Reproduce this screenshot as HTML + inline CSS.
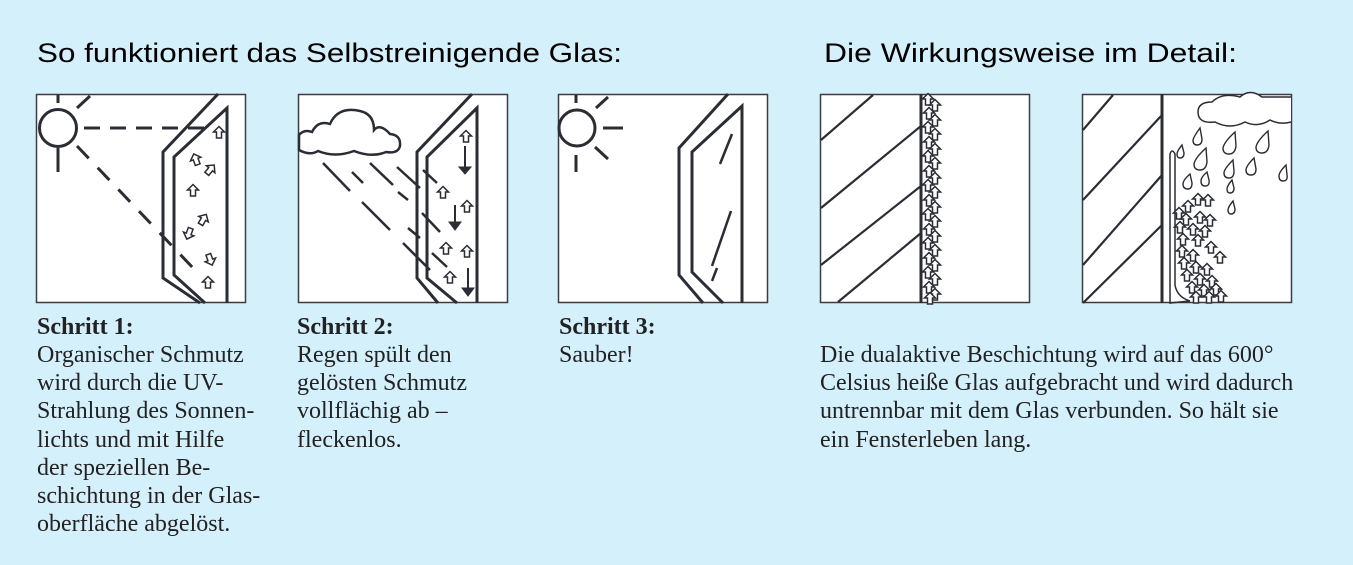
<!DOCTYPE html>
<html><head><meta charset="utf-8"><style>
body{margin:0;background:#d4f1fb;}
svg{display:block}
.t{font-family:"Liberation Sans",sans-serif;font-size:27px;fill:#000}
.c{font-family:"Liberation Serif",serif;font-size:24px;fill:#222}
.b{font-weight:bold}
</style></head><body>
<svg width="1353" height="565" viewBox="0 0 1353 565" xmlns="http://www.w3.org/2000/svg">
<defs>
<g id="d"><path d="M0,-6.5 L5.5,-1 L2.5,-1 L2.5,5 L-2.5,5 L-2.5,-1 L-5.5,-1 Z" fill="#fff" stroke="#2a2d33" stroke-width="1.5"/></g>
</defs>
<text class="t" x="37" y="62" textLength="585" lengthAdjust="spacingAndGlyphs">So funktioniert das Selbstreinigende Glas:</text>
<text class="t" x="824" y="62" textLength="413" lengthAdjust="spacingAndGlyphs">Die Wirkungsweise im Detail:</text>
<g fill="#fff" stroke="#3a3c40" stroke-width="1.5">
<rect x="36.5" y="94.5" width="209" height="208"/>
<rect x="298.5" y="94.5" width="209" height="208"/>
<rect x="558.5" y="94.5" width="209" height="208"/>
<rect x="820.5" y="94.5" width="209" height="208"/>
<rect x="1082.5" y="94.5" width="209" height="208"/>
</g>
<g fill="none" stroke="#2a2d33" stroke-width="3">
<circle cx="58" cy="128" r="18.5"/>
<path d="M58,95V103 M77,108L90,96 M58,148V172"/>
<path d="M84,128H212" stroke-dasharray="16,10"/>
<path d="M77,146L195,270" stroke-dasharray="17,13"/>
<path d="M218,94L163,152V278L200,303 M227,303V108L174,157V275L205,303"/>
<path d="M472,94L417,152V278L438,303 M477,303V108L427,157V278L457,303"/>
<path d="M323,163L350,191 M352,172L363,183 M370,163L393,185 M397,167L420,188 M423,170L437,183 M362,202L390,230 M398,192L408,200 M422,213L440,232 M408,228L420,238 M403,243L430,270 M432,253L447,267" stroke-width="2.5"/>
<path d="M465,146V172 M455,205V228 M468,268V294" stroke-width="2"/>
<path d="M459,167L471,167L465,174Z M449,222L461,222L455,230Z M462,288L474,288L468,296Z" fill="#2a2d33" stroke-width="1"/>
<circle cx="577" cy="128" r="18"/>
<path d="M576,95V103 M596,108L608,97 M603,128H623 M595,147L608,159 M576,155V172"/>
<path d="M728,94L679,148V275L703,303 M742,303V106L692,152V272L723,303"/>
<path d="M732,134L720,164 M731,211L712,266 M717,268L712,281" stroke-width="2.5"/>
<path d="M921,94V303" />
<path d="M821,140L873,95 M821,208L921,126 M821,265L921,186 M838,302L921,233" stroke-width="2.2"/>
<path d="M1162,94V303"/>
<path d="M1083,130L1113,95 M1083,200L1162,115 M1083,265L1162,175 M1083,303L1162,225" stroke-width="2.2"/>
<path d="M1170,303V154Q1172,148 1175,154V285Q1177,297 1190,301Z" stroke-width="1.5"/>
</g>
<path d="M299,135Q304,129 312,132Q318,120 330,124Q338,106 360,111Q374,114 374,130Q380,123 390,134Q401,135 400,146Q398,154 386,152Q372,158 354,151Q335,158 318,151Q310,156 299,150Z" fill="#fff" stroke="#2a2d33" stroke-width="2.5"/>
<path d="M1291,122Q1280,125 1270,120Q1258,128 1245,122Q1230,130 1215,122Q1198,124 1198,112Q1198,102 1212,102Q1222,92 1240,97Q1250,88 1262,97L1291,97" fill="#fff" stroke="#2a2d33" stroke-width="1.5"/>
<g fill="#fff" stroke="#2a2d33" stroke-width="1.4">
<path d="M1200,128q-6,8 -7,12q0,5 4,5q5,0 5,-6z M1235,132q-11,10 -12,16q0,6 6,6q6,0 7,-8z M1268,131q-11,10 -12,16q0,6 6,6q6,0 7,-8z M1182,145q-5,6 -5,9q0,4 3,4q4,0 4,-5z M1206,148q-11,10 -12,16q0,6 6,6q6,0 7,-8z M1233,160q-9,9 -9,13q0,5 5,5q5,0 5,-7z M1254,158q-8,8 -8,12q0,5 5,5q5,0 5,-6z M1286,165q-7,7 -7,11q0,5 4,5q5,0 4,-6z M1190,174q-7,6 -7,10q0,5 5,5q4,0 4,-6z M1207,172q-6,5 -6,9q0,5 4,5q5,0 4,-6z M1232,180q-5,6 -5,9q0,4 3,4q4,0 4,-5z M1233,201q-5,6 -5,9q0,4 3,4q4,0 4,-5z"/>
</g>
<g>
<use href="#d" x="219" y="133"/><use href="#d" x="196" y="160" transform="rotate(-20 196 160)"/><use href="#d" x="210" y="170" transform="rotate(40 210 170)"/><use href="#d" x="193" y="191"/><use href="#d" x="203" y="220" transform="rotate(30 203 220)"/><use href="#d" x="189" y="233" transform="rotate(200 189 233)"/><use href="#d" x="210" y="259" transform="rotate(160 210 259)"/><use href="#d" x="208" y="283"/>
<use href="#d" x="466" y="137"/><use href="#d" x="443" y="193"/><use href="#d" x="467" y="207"/><use href="#d" x="446" y="249"/><use href="#d" x="467" y="252"/><use href="#d" x="450" y="278"/>
</g>
<g>
<use href="#d" x="928" y="100"/><use href="#d" x="935" y="106"/><use href="#d" x="929" y="114"/><use href="#d" x="935" y="121"/><use href="#d" x="928" y="128"/><use href="#d" x="935" y="135"/><use href="#d" x="929" y="143"/><use href="#d" x="935" y="150"/><use href="#d" x="928" y="157"/><use href="#d" x="935" y="164"/><use href="#d" x="929" y="172"/><use href="#d" x="935" y="179"/><use href="#d" x="928" y="186"/><use href="#d" x="935" y="193"/><use href="#d" x="929" y="201"/><use href="#d" x="935" y="208"/><use href="#d" x="928" y="215"/><use href="#d" x="935" y="222"/><use href="#d" x="929" y="230"/><use href="#d" x="935" y="237"/><use href="#d" x="928" y="244"/><use href="#d" x="935" y="251"/><use href="#d" x="929" y="259"/><use href="#d" x="935" y="266"/><use href="#d" x="928" y="273"/><use href="#d" x="935" y="280"/><use href="#d" x="929" y="288"/><use href="#d" x="935" y="295"/><use href="#d" x="930" y="299"/>
</g>
<g>
<use href="#d" x="1198" y="200"/><use href="#d" x="1208" y="201"/><use href="#d" x="1188" y="207"/><use href="#d" x="1179" y="214"/><use href="#d" x="1186" y="220"/><use href="#d" x="1200" y="218"/><use href="#d" x="1210" y="221"/><use href="#d" x="1180" y="228"/><use href="#d" x="1193" y="230"/><use href="#d" x="1205" y="232"/><use href="#d" x="1183" y="240"/><use href="#d" x="1198" y="241"/><use href="#d" x="1211" y="248"/><use href="#d" x="1182" y="252"/><use href="#d" x="1193" y="256"/><use href="#d" x="1220" y="258"/><use href="#d" x="1184" y="264"/><use href="#d" x="1196" y="268"/><use href="#d" x="1207" y="270"/><use href="#d" x="1187" y="276"/><use href="#d" x="1200" y="280"/><use href="#d" x="1212" y="282"/><use href="#d" x="1192" y="288"/><use href="#d" x="1204" y="291"/><use href="#d" x="1216" y="290"/><use href="#d" x="1196" y="298"/><use href="#d" x="1209" y="298"/><use href="#d" x="1221" y="297"/>
</g>
<text class="c"><tspan class="b" x="37" y="334">Schritt 1:</tspan><tspan x="37" y="362">Organischer Schmutz</tspan><tspan x="37" y="390">wird durch die UV-</tspan><tspan x="37" y="418">Strahlung des Sonnen-</tspan><tspan x="37" y="447">lichts und mit Hilfe</tspan><tspan x="37" y="475">der speziellen Be-</tspan><tspan x="37" y="503">schichtung in der Glas-</tspan><tspan x="37" y="531">oberfläche abgelöst.</tspan></text>
<text class="c"><tspan class="b" x="297" y="334">Schritt 2:</tspan><tspan x="297" y="362">Regen spült den</tspan><tspan x="297" y="390">gelösten Schmutz</tspan><tspan x="297" y="418">vollflächig ab –</tspan><tspan x="297" y="447">fleckenlos.</tspan></text>
<text class="c"><tspan class="b" x="559" y="334">Schritt 3:</tspan><tspan x="559" y="362">Sauber!</tspan></text>
<text class="c"><tspan x="820" y="362">Die dualaktive Beschichtung wird auf das 600°</tspan><tspan x="820" y="390">Celsius heiße Glas aufgebracht und wird dadurch</tspan><tspan x="820" y="418">untrennbar mit dem Glas verbunden. So hält sie</tspan><tspan x="820" y="447">ein Fensterleben lang.</tspan></text>
</svg>
</body></html>
